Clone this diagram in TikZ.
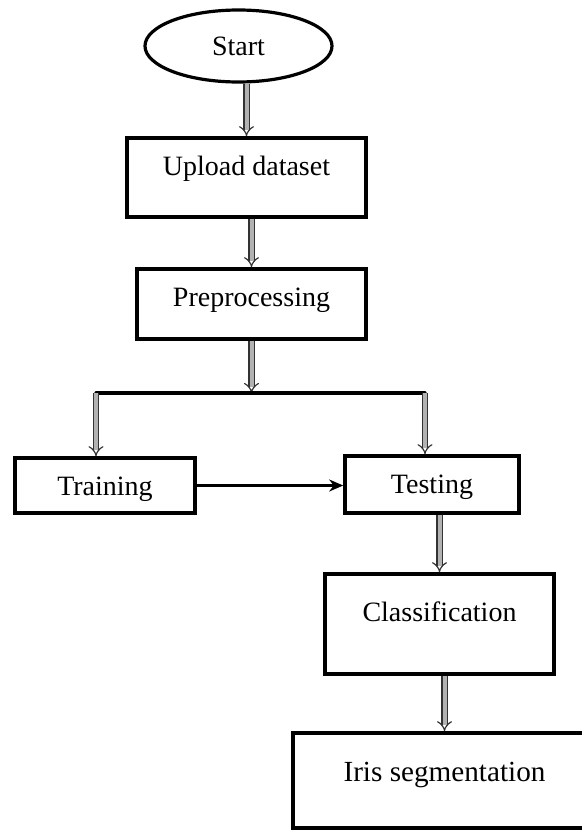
\documentclass[tikz,border=0pt]{standalone}
\usepackage{fontspec}
\setmainfont{Liberation Serif}
\usetikzlibrary{arrows.meta, shapes.geometric}

\begin{document}
\begin{tikzpicture}[x=0.5pt, y=-0.5pt, font=\fontsize{14}{16}\selectfont,
  box/.style = {draw, line width=1.8pt, inner sep=0pt, text height=18.75pt},
  start/.style = {draw, ellipse, line width=1.6pt, inner sep=0pt, minimum width=93.5pt, minimum height=36pt},
  flow/.style = {draw=black!80, line width=0.6pt, double=gray!60, double distance=2pt, -{Implies}},
  link/.style = {line width=1.3pt, -{Stealth[length=7pt,width=6pt]}}]
\useasboundingbox (0,0) rectangle (582,830);
\clip (0,0) rectangle (582,830);
\node[start] (st) at (238.5,46) {Start};
\node[box, minimum width=119.5pt, text depth=20.75pt] (up) at (246.5,177.5) {Upload dataset};
\node[box, minimum width=114.5pt, text depth=16.25pt] (pre) at (251.5,304) {Preprocessing};
\node[box, minimum width=90pt, text depth=8.75pt] (tr) at (105,485.5) {Training};
\node[box, minimum width=87pt, text depth=9.75pt] (te) at (432,484.5) {Testing};
\node[box, minimum width=114.5pt, text height=23.75pt, text depth=26.25pt] (cl) at (439.5,624) {Classification};
\node[box, minimum width=151.5pt, text height=24.25pt, text depth=23.25pt, font=\fontsize{14.6}{16}\selectfont] (iris) at (444.5,780.5) {Iris segmentation};
\coordinate (sl) at (96,393);
\coordinate (sr) at (425,393);
\draw[flow] (st.south -| up.north) -- (up.north);
\draw[flow] (up.south -| pre.north) -- (pre.north);
\draw[flow] (pre.south) -- (pre.south |- sl);
\draw[line width=1.7pt, line cap=round] (sl) -- (sr);
\draw[flow] (sl) -- (sl |- tr.north);
\draw[flow] (sr) -- (sr |- te.north);
\draw[link] (tr.east) -- (tr.east -| te.west);
\draw[flow] (te.south -| cl.north) -- (cl.north);
\draw[flow] (cl.south -| iris.north) -- (iris.north);
\end{tikzpicture}
\end{document}
